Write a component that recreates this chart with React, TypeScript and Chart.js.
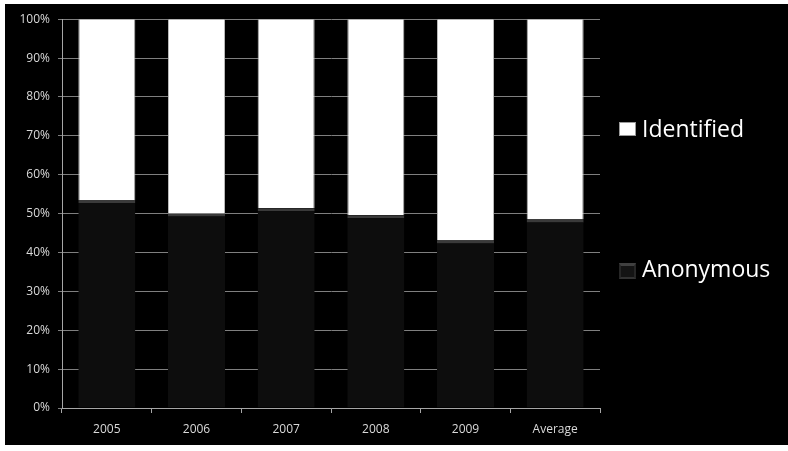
import React, { useEffect, useRef } from "react";
import { Chart, registerables } from "chart.js";

Chart.register(...registerables);

const categories = ["2005", "2006", "2007", "2008", "2009", "Average"];
const anonymousValues = [53.5, 50.0, 51.4, 49.6, 43.1, 48.5];
const identifiedValues = [46.5, 50.0, 48.6, 50.4, 56.9, 51.5];
const yTicks = [0, 10, 20, 30, 40, 50, 60, 70, 80, 90, 100];
const seriesNames = ["Anonymous", "Identified"];

export default function App() {
  const canvasRef = useRef<HTMLCanvasElement | null>(null);

  useEffect(() => {
    if (!canvasRef.current) return;
    const chart = new Chart(canvasRef.current, {
      type: "bar",
      data: {
        labels: categories,
        datasets: [
          {
            label: seriesNames[0],
            data: anonymousValues,
            backgroundColor: "#0d0d0d",
            borderColor: "#3a3a3a",
            borderWidth: { top: 3, left: 0, right: 0, bottom: 0 },
            borderSkipped: false,
            barPercentage: 0.636,
            categoryPercentage: 1,
          },
          {
            label: seriesNames[1],
            data: identifiedValues,
            backgroundColor: "#ffffff",
            borderColor: "#b8b8b8",
            borderWidth: { top: 0, left: 1, right: 1, bottom: 0 },
            borderSkipped: false,
            barPercentage: 0.636,
            categoryPercentage: 1,
          },
        ],
      },
      options: {
        responsive: false,
        animation: false,
        layout: { padding: { left: 0, top: 14, right: 188, bottom: 0 } },
        plugins: { legend: { display: false }, tooltip: { enabled: false } },
        scales: {
          x: {
            stacked: true,
            grid: {
              drawOnChartArea: false,
              drawTicks: true,
              tickLength: 5,
              color: "#a6a6a6",
              offset: true,
            },
            border: { display: true, color: "#a6a6a6", width: 1 },
            ticks: {
              color: "#d9d9d9",
              font: { family: "'Open Sans'", size: 12 },
              padding: 9,
              maxRotation: 0,
            },
            afterFit: (s: any) => {
              s.height = 37;
            },
          },
          y: {
            stacked: true,
            min: 0,
            max: 100,
            afterBuildTicks: (s: any) => {
              s.ticks = yTicks.map((v) => ({ value: v }));
            },
            grid: {
              color: "#7f7f7f",
              drawTicks: true,
              tickLength: 4,
              lineWidth: 1,
            },
            border: { display: true, color: "#a6a6a6", width: 1 },
            ticks: {
              color: "#d9d9d9",
              font: { family: "'Open Sans'", size: 12 },
              padding: 8,
              callback: (v: any) => v + "%",
            },
            afterFit: (s: any) => {
              s.width = 57;
            },
          },
        },
      },
    });
    return () => chart.destroy();
  }, []);

  const legendText: React.CSSProperties = {
    position: "absolute",
    left: 642,
    fontFamily: "'Open Sans'",
    fontSize: 23,
    lineHeight: "23px",
    color: "#ffffff",
    whiteSpace: "nowrap",
  };

  return (
    <div style={{ position: "absolute", left: 0, top: 0, width: 788, height: 451, background: "#ffffff" }}>
      <div style={{ position: "absolute", left: 5, top: 4, width: 783, height: 441, background: "#000000" }}>
        <canvas ref={canvasRef} width={783} height={441} style={{ display: "block", width: 783, height: 441 }} />
      </div>
      <div
        style={{
          position: "absolute",
          left: 619,
          top: 122,
          width: 15,
          height: 12,
          background: "#ffffff",
          border: "1px solid #9a9a9a",
        }}
      />
      <div style={{ ...legendText, top: 117 }}>{seriesNames[1]}</div>
      <div
        style={{
          position: "absolute",
          left: 619,
          top: 263,
          width: 13,
          height: 11,
          background: "#141414",
          borderStyle: "solid",
          borderWidth: "3px 2px 2px 2px",
          borderColor: "#404040 #262626 #333333 #262626",
        }}
      />
      <div style={{ ...legendText, top: 257 }}>{seriesNames[0]}</div>
    </div>
  );
}
